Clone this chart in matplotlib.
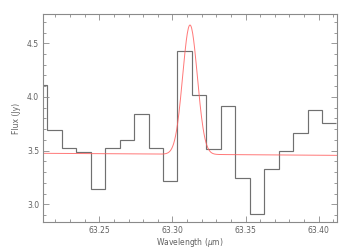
import numpy as np
import matplotlib
matplotlib.use("Agg")
import matplotlib.pyplot as plt
from matplotlib.ticker import MultipleLocator

# Binned spectrum: bin-centre wavelengths (um) and flux (Jy)
wave = [63.2095, 63.2193, 63.2292, 63.2391, 63.2490, 63.2589, 63.2688,
        63.2787, 63.2886, 63.2984, 63.3083, 63.3182, 63.3281, 63.3380,
        63.3479, 63.3578, 63.3677, 63.3775, 63.3874, 63.3973, 63.4072]
flux = [4.111, 3.689, 3.524, 3.487, 3.143, 3.527, 3.602,
        3.841, 3.524, 3.214, 4.425, 4.016, 3.515, 3.914,
        3.242, 2.907, 3.326, 3.497, 3.661, 3.876, 3.757]

# Gaussian line fit parameters
line_centre = 63.3120
line_peak = 1.205
line_sigma = 0.0050
cont_left = 3.475    # continuum at left edge of range
cont_right = 3.456   # continuum at right edge of range

xlim = (63.2117, 63.4123)
ylim = (2.835, 4.773)
xticks = [63.25, 63.30, 63.35, 63.40]
yticks = [3.0, 3.5, 4.0, 4.5]

wave_a = np.array(wave)
flux_a = np.array(flux)
w = np.diff(wave_a)
edges = np.concatenate([[wave_a[0] - w[0] / 2],
                        (wave_a[:-1] + wave_a[1:]) / 2,
                        [wave_a[-1] + w[-1] / 2]])

xf = np.linspace(xlim[0], xlim[1], 600)
cont = cont_left + (cont_right - cont_left) * (xf - xlim[0]) / (xlim[1] - xlim[0])
model = cont + line_peak * np.exp(-(xf - line_centre) ** 2 / (2 * line_sigma ** 2))

fig = plt.figure(figsize=(3.5, 2.5), dpi=100)
ax = fig.add_axes([0.1237, 0.112, 0.8383, 0.832])

gray = "#707070"
ax.stairs(flux_a, edges, color=gray, lw=0.85, baseline=None)
ax.plot(xf, model, color="#ff6060", lw=0.7, alpha=0.85)

ax.set_xlim(*xlim)
ax.set_ylim(*ylim)
ax.set_xticks(xticks)
ax.set_xticklabels([f"{t:.2f}" for t in xticks])
ax.set_yticks(yticks)
ax.set_yticklabels([f"{t:.1f}" for t in yticks])
ax.xaxis.set_minor_locator(MultipleLocator(0.01))
ax.yaxis.set_minor_locator(MultipleLocator(0.1))

axc = "#8a8a8a"
for s in ax.spines.values():
    s.set_color(axc)
    s.set_linewidth(0.8)
ax.tick_params(which="both", direction="in", top=True, right=True,
               color=axc, labelcolor="#606060", labelsize=5.5, width=0.6)
ax.tick_params(which="major", length=4)
ax.tick_params(axis="x", which="major", pad=3)
ax.tick_params(axis="y", which="major", pad=3)
ax.tick_params(which="minor", length=2)

ax.set_xlabel("Wavelength ($\\mu$m)", fontsize=5.5, color="#606060", labelpad=0.5)
ax.set_ylabel("Flux (Jy)", fontsize=5.5, color="#606060", labelpad=4)

fig.savefig("out.png", dpi=100)
